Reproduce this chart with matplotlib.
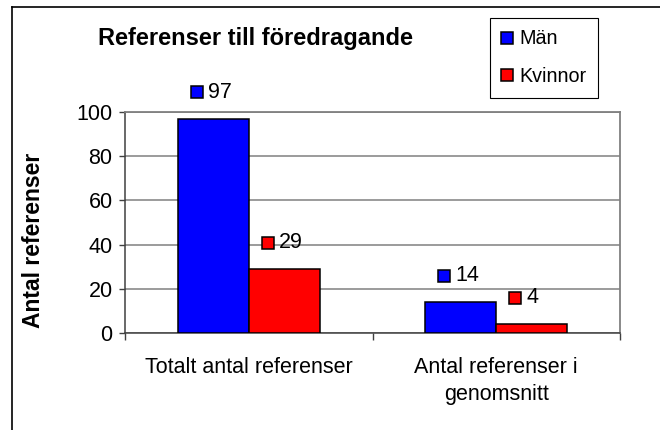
import numpy as np
import matplotlib.pyplot as plt
from matplotlib.lines import Line2D
from matplotlib.transforms import offset_copy

plt.rcParams['font.family'] = ['Liberation Sans', 'DejaVu Sans']

# Data
categories = ['Totalt antal referenser', 'Antal referenser i\ngenomsnitt']
man = [97, 14]
kvinnor = [29, 4]
series_names = ['Män', 'Kvinnor']
colors = ['#0000ff', '#ff0000']

fig = plt.figure(figsize=(6.6, 4.3), dpi=100)
ax = fig.add_axes([125 / 660, 1 - 333 / 430, 495 / 660, 221 / 430])

x = np.arange(len(categories))
w = 0.287
ax.bar(x - w / 2, man, w, color=colors[0], edgecolor='black', linewidth=1.1, zorder=3)
ax.bar(x + w / 2, kvinnor, w, color=colors[1], edgecolor='black', linewidth=1.1, zorder=3)

ax.set_xlim(-0.5, 1.5)
ax.set_ylim(0, 100)
ax.set_yticks([0, 20, 40, 60, 80, 100])
ax.yaxis.grid(True, color='#808080', linewidth=1.1, zorder=0)
ax.set_axisbelow(True)

ax.set_xticks(x)
ax.set_xticklabels(categories, fontsize=15.5, linespacing=1.38)
ax.tick_params(axis='x', which='major', length=0, pad=17)
ax.set_xticks([-0.5, 0.5, 1.5], minor=True)
ax.tick_params(axis='x', which='minor', length=5, width=1, color='#404040')
ax.tick_params(axis='y', labelsize=15.5, length=4, width=1, color='#404040', pad=5)

for s in ['top', 'right']:
    ax.spines[s].set_color('#808080')
    ax.spines[s].set_linewidth(1.3)
for s in ['left', 'bottom']:
    ax.spines[s].set_color('#404040')
    ax.spines[s].set_linewidth(1.1)

fig.text(34 / 660, 1 - 240 / 430, 'Antal referenser', rotation=90, ha='center',
         va='center', fontsize=16.5, fontweight='bold')

# data labels with a small legend key square in front
for xs, vals, c in [(x - w / 2, man, colors[0]), (x + w / 2, kvinnor, colors[1])]:
    for xi, v in zip(xs, vals):
        tr = offset_copy(ax.transData, fig=fig, x=-12, y=19, units='points')
        ax.plot([xi], [v], marker='s', markersize=8, markerfacecolor=c,
                markeredgecolor='black', markeredgewidth=1.1, transform=tr,
                clip_on=False, zorder=4)
        ax.annotate(str(v), xy=(xi, v), xytext=(-4, 19), textcoords='offset points',
                    ha='left', va='center', fontsize=15.5)

fig.text(255 / 660, 1 - 38 / 430, 'Referenser till föredragande', ha='center',
         va='center', fontsize=17, fontweight='bold')

handles = [Line2D([], [], linestyle='none', marker='s', markersize=8,
                  markerfacecolor=c, markeredgecolor='black', markeredgewidth=1.1)
           for c in colors]
leg = fig.legend(handles, series_names, loc='upper left',
                 bbox_to_anchor=(490 / 660, 1 - 18 / 430), fontsize=14.2,
                 frameon=True, fancybox=False, edgecolor='black', framealpha=1,
                 handlelength=0.6, handletextpad=0.3, labelspacing=0.95,
                 borderpad=0.58, borderaxespad=0)
leg.get_frame().set_linewidth(0.8)

# outer chart frame (partly cut off)
fig.add_artist(Line2D([12 / 660, 1], [1 - 7 / 430, 1 - 7 / 430], color='black', linewidth=1.2))
fig.add_artist(Line2D([12 / 660, 12 / 660], [0, 1 - 7 / 430], color='black', linewidth=1.2))

fig.savefig('out.png', dpi=100)
